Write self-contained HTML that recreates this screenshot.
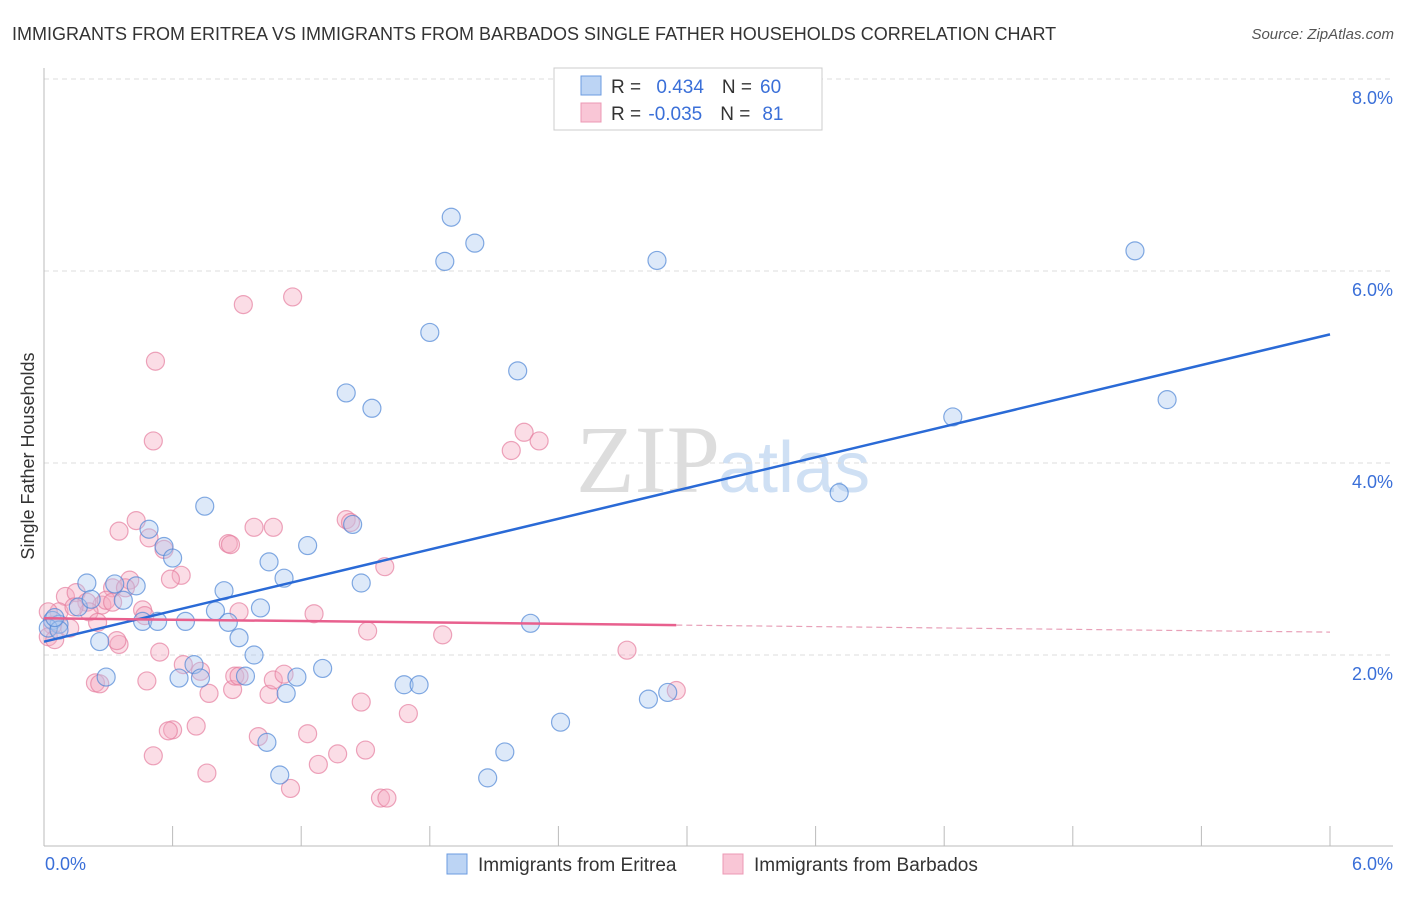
<!DOCTYPE html>
<html><head><meta charset="utf-8"><style>
body{margin:0;background:#fff;font-family:"Liberation Sans",sans-serif;}
</style></head><body>
<svg id="chart" width="1406" height="892" xmlns="http://www.w3.org/2000/svg">
<text x="12" y="40" font-size="18" fill="#333">IMMIGRANTS FROM ERITREA VS IMMIGRANTS FROM BARBADOS SINGLE FATHER HOUSEHOLDS CORRELATION CHART</text>
<text x="1394" y="39" font-size="15" fill="#555" font-style="italic" text-anchor="end">Source: ZipAtlas.com</text>
<text x="720" y="492" font-size="96" fill="#ddd" font-family="Liberation Serif,serif" text-anchor="end">ZIP</text>
<text x="718" y="492" font-size="72" fill="#cfe0f4">atlas</text>
<g id="grid"></g><g id="axes"></g><g id="pts"></g><g id="lines"></g>
<text transform="translate(34,456) rotate(-90)" font-size="18" fill="#333" text-anchor="middle">Single Father Households</text>
<text x="45" y="870" font-size="18" fill="#3a6fd8">0.0%</text>
<text x="1393" y="870" font-size="18" fill="#3a6fd8" text-anchor="end">6.0%</text>
<g>
<rect x="554" y="68" width="268" height="62" fill="#fff" stroke="#ccc"/>
<rect x="581" y="76" width="20" height="19" fill="#bcd4f4" stroke="#6b9be0"/>
<rect x="581" y="103" width="20" height="19" fill="#f9c6d6" stroke="#ec98b4"/>
<text x="611" y="93" font-size="19" fill="#333">R = <tspan fill="#3a6fd8" dx="10">0.434</tspan><tspan fill="#333" dx="18">N =</tspan><tspan fill="#3a6fd8" dx="8">60</tspan></text>
<text x="611" y="120" font-size="19" fill="#333">R = <tspan fill="#3a6fd8" dx="2">-0.035</tspan><tspan fill="#333" dx="18">N =</tspan><tspan fill="#3a6fd8" dx="12">81</tspan></text>
</g>
<g>
<rect x="447" y="854" width="20" height="20" fill="#bcd4f4" stroke="#6b9be0"/>
<text x="478" y="871" font-size="19" fill="#333">Immigrants from Eritrea</text>
<rect x="723" y="854" width="20" height="20" fill="#f9c6d6" stroke="#ec98b4"/>
<text x="754" y="871" font-size="19" fill="#333">Immigrants from Barbados</text>
</g>
</svg>
<script>
const yTicks=[2,4,6,8];
const yTickLabels=["2.0%","4.0%","6.0%","8.0%"];
const xTicks=[0,0.6,1.2,1.8,2.4,3.0,3.6,4.2,4.8,5.4,6.0];
const eritreaX=[1.90,2.01,1.87,2.86,5.09,1.80,2.21,1.41,1.53,4.24,5.24,3.71,0.75,0.49,1.44,0.56,0.60,1.23,1.05,0.20,0.33,0.43,1.48,1.12,0.84,0.37,0.16,0.22,1.01,0.80,0.46,0.53,0.66,0.86,2.27,0.04,0.07,0.02,0.91,0.26,0.98,0.70,1.30,0.29,0.63,0.73,0.94,1.18,1.13,1.68,1.75,2.82,2.91,2.41,2.15,1.04,1.10,2.07,0.07,0.05];
const eritreaY=[6.56,6.29,6.10,6.11,6.21,5.36,4.96,4.73,4.57,4.48,4.66,3.69,3.55,3.31,3.36,3.13,3.01,3.14,2.97,2.75,2.74,2.72,2.75,2.80,2.67,2.57,2.50,2.58,2.49,2.46,2.35,2.35,2.35,2.34,2.33,2.36,2.32,2.28,2.18,2.14,2.00,1.90,1.86,1.77,1.76,1.76,1.78,1.77,1.60,1.69,1.69,1.54,1.61,1.30,0.99,1.09,0.75,0.72,2.26,2.39];
const barbadosX=[1.16,0.93,0.52,0.51,2.24,2.31,2.18,0.43,0.35,1.41,1.43,1.07,0.98,0.86,0.87,0.49,0.56,1.59,0.64,0.59,0.40,0.32,0.10,0.15,0.27,0.20,0.29,0.38,0.07,0.02,0.04,0.12,0.21,0.25,0.32,0.46,0.47,0.91,1.26,1.51,1.86,2.72,0.35,0.34,0.54,0.65,0.73,0.24,0.26,0.48,0.88,0.89,0.77,1.05,1.07,1.12,1.48,1.70,0.71,0.60,0.58,0.51,0.76,1.00,1.23,1.37,1.50,1.28,1.15,1.57,1.60,2.95,0.91,0.02,0.05,0.14];
const barbadosY=[5.73,5.65,5.06,4.23,4.32,4.23,4.13,3.40,3.29,3.41,3.38,3.33,3.33,3.16,3.15,3.22,3.10,2.92,2.83,2.79,2.78,2.70,2.61,2.65,2.52,2.55,2.57,2.70,2.45,2.45,2.31,2.28,2.45,2.34,2.55,2.47,2.41,2.45,2.43,2.25,2.21,2.05,2.11,2.15,2.03,1.90,1.83,1.71,1.70,1.73,1.64,1.78,1.60,1.59,1.74,1.80,1.51,1.39,1.26,1.22,1.21,0.95,0.77,1.15,1.18,0.97,1.01,0.86,0.61,0.51,0.51,1.63,1.78,2.19,2.16,2.50];
const X0=44,X1=1330,Y0=847;
const sx=v=>X0+(v/6)*(X1-X0);
const sy=v=>Y0-v*96;
const NS="http://www.w3.org/2000/svg";
function mk(tag,attrs,parent){const e=document.createElementNS(NS,tag);for(const k in attrs)e.setAttribute(k,attrs[k]);parent.appendChild(e);return e;}
const grid=document.getElementById('grid'),axes=document.getElementById('axes'),pts=document.getElementById('pts'),lines=document.getElementById('lines');
yTicks.forEach((t,i)=>{
 const l=mk('line',{x1:44,x2:1393,y1:sy(t),y2:sy(t),stroke:'#ddd','stroke-dasharray':'5,4'},grid);
 
 
 const tx=mk('text',{x:1393,y:sy(t)+25,'font-size':18,fill:'#3a6fd8','text-anchor':'end'},grid);
 tx.textContent=yTickLabels[i];
 
 
});
const ax=mk('line',{x1:44,x2:1393,y1:846,y2:846,stroke:'#bbb'},axes);


const ay=mk('line',{x1:44,x2:44,y1:68,y2:846,stroke:'#bbb'},axes);


xTicks.forEach(t=>{
 const l=mk('line',{x1:sx(t),x2:sx(t),y1:826,y2:846,stroke:'#bbb'},axes);
 
 
});
function draw(xs,ys,fill,stroke,name){
 xs.forEach((x,i)=>{
  const c=mk('circle',{cx:sx(x),cy:sy(ys[i]),r:9,fill:fill,'fill-opacity':0.4,stroke:stroke,'stroke-opacity':0.7,'stroke-width':1.2},pts);
  
  
 });
}
draw(barbadosX,barbadosY,'#f4aac0','#e67fa0','barbados-point');
draw(eritreaX,eritreaY,'#a9c8f0','#4f86d6','eritrea-point');
function fit(xs,ys){const n=xs.length;let mx=0,my=0;xs.forEach((x,i)=>{mx+=x;my+=ys[i];});mx/=n;my/=n;let sxy=0,sxx=0;xs.forEach((x,i)=>{sxy+=(x-mx)*(ys[i]-my);sxx+=(x-mx)**2;});const b=sxy/sxx;return [my-b*mx,b];}
const [ea,eb]=fit(eritreaX,eritreaY);
const bl=mk('line',{x1:sx(0),y1:sy(ea),x2:sx(6),y2:sy(ea+eb*6),stroke:'#2a6ad6','stroke-width':2.5},lines);


const [ba,bb]=fit(barbadosX,barbadosY);
const bmax=Math.max(...barbadosX);
const pl=mk('line',{x1:sx(0),y1:sy(ba),x2:sx(bmax),y2:sy(ba+bb*bmax),stroke:'#e8608e','stroke-width':2.5},lines);


const pd=mk('line',{x1:sx(bmax),y1:sy(ba+bb*bmax),x2:sx(6),y2:sy(ba+bb*6),stroke:'#e8a0b8','stroke-width':1.2,'stroke-dasharray':'6,4'},lines);


</script>
</body></html>
